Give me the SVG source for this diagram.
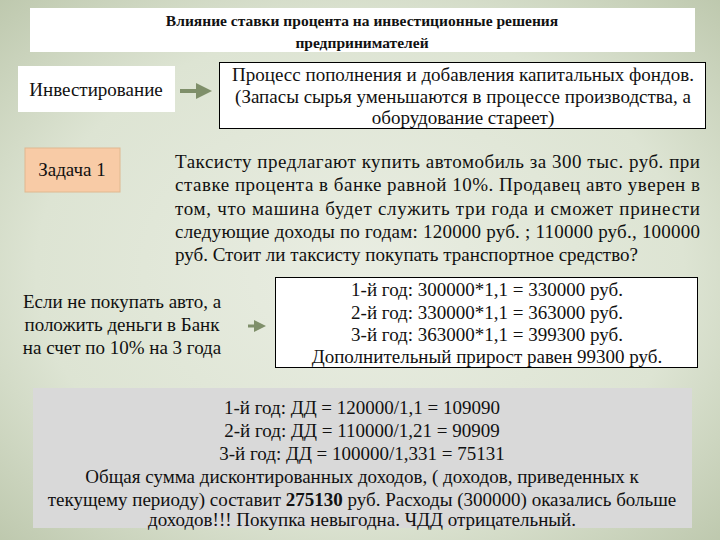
<svg xmlns="http://www.w3.org/2000/svg" width="720" height="540" viewBox="0 0 720 540" font-family="'Liberation Serif', 'DejaVu Serif', serif" font-size="19">
<defs>
<radialGradient id="bg" cx="50%" cy="50%" r="75%">
<stop offset="0" stop-color="#e9ede2"/><stop offset="0.6" stop-color="#dde4d3"/><stop offset="1" stop-color="#b9c4a8"/>
</radialGradient>
<marker id="ah" markerWidth="4" markerHeight="4" refX="2" refY="2" orient="auto" markerUnits="strokeWidth"><path d="M0,0 L4,2 L0,4 Z" fill="#7f8f6a"/></marker>
<style>
text{fill:#111}
.c{text-anchor:middle}
.b{font-weight:bold}
.t{font-size:15.5px}
</style>
</defs>
<rect width="720" height="540" fill="url(#bg)"/>
<g id="title"><rect x="30" y="8" width="665" height="44" fill="#fff"/>
<text class="c b t" x="362" y="26">Влияние ставки процента на инвестиционные решения</text>
<text class="c b t" x="362" y="48">предпринимателей</text></g>
<g id="invest"><rect x="18" y="66" width="157" height="46" fill="#fff"/>
<text class="c" x="96" y="96">Инвестирование</text></g>
<g id="process"><rect x="219.5" y="62.5" width="486" height="66" fill="#fff" stroke="#000"/>
<text class="c" x="463" y="81">Процесс пополнения и добавления капитальных фондов.</text>
<text class="c" x="463" y="103">(Запасы сырья уменьшаются в процессе производства, а</text>
<text class="c" x="463" y="124">оборудование стареет)</text></g>
<g id="task1"><rect x="25" y="148" width="95" height="44" fill="#f8cba6" stroke="#e0b890"/>
<text class="c" x="72" y="176">Задача 1</text></g>
<g id="tasktext">
<text x="175" y="168" textLength="525" lengthAdjust="spacing">Таксисту предлагают купить автомобиль за 300 тыс. руб. при</text>
<text x="175" y="191" textLength="525" lengthAdjust="spacing">ставке процента в банке равной 10%.  Продавец  авто уверен в</text>
<text x="175" y="215" textLength="525" lengthAdjust="spacing">том, что машина будет служить три года и сможет принести</text>
<text x="175" y="238" textLength="525" lengthAdjust="spacing">следующие доходы по годам: 120000 руб. ; 110000 руб., 100000</text>
<text x="175" y="261">руб. Стоит ли таксисту покупать транспортное средство?</text></g>
<g id="bank">
<text class="c" x="122" y="308">Если не покупать авто, а</text>
<text class="c" x="122" y="331">положить деньги в Банк</text>
<text class="c" x="122" y="354">на счет по 10% на 3 года</text></g>
<g id="calc"><rect x="275.5" y="277.5" width="422" height="90" fill="#fff" stroke="#000"/>
<text class="c" x="487" y="296">1-й год: 300000*1,1 = 330000 руб.</text>
<text class="c" x="487" y="319">2-й год: 330000*1,1 = 363000 руб.</text>
<text class="c" x="487" y="341">3-й год: 363000*1,1 = 399300 руб.</text>
<text class="c" x="487" y="363">Дополнительный прирост равен 99300 руб.</text></g>
<g id="summary"><rect x="33" y="388" width="659" height="140" fill="#d9d9d9"/>
<text class="c" x="362" y="414">1-й год: ДД = 120000/1,1 = 109090</text>
<text class="c" x="362" y="437">2-й год: ДД = 110000/1,21 = 90909</text>
<text class="c" x="362" y="460">3-й год: ДД = 100000/1,331 = 75131</text>
<text class="c" x="362" y="483">Общая сумма  дисконтированных доходов, ( доходов, приведенных к</text>
<text class="c" x="362" y="506">текущему периоду) составит <tspan class="b">275130</tspan> руб.  Расходы (300000) оказались больше</text>
<text class="c" x="362" y="526">доходов!!! Покупка невыгодна. ЧДД отрицательный.</text></g>
<g id="connectors" stroke="#7f8f6a" stroke-width="4">
<line x1="180" y1="91" x2="204" y2="91" marker-end="url(#ah)"/>
<line x1="248" y1="326" x2="260" y2="326" stroke-width="3" marker-end="url(#ah)"/>
</g>
</svg>
